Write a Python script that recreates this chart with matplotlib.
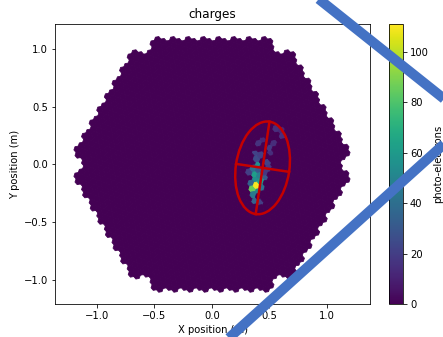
import numpy as np
import matplotlib
matplotlib.use("Agg")
import matplotlib.pyplot as plt
from matplotlib.collections import PolyCollection
from matplotlib.patches import Ellipse
from matplotlib.lines import Line2D

# ---------------- data ----------------
title = "charges"
x_label = "X position (m)"
y_label = "Y position (m)"
cbar_label = "photo-electrons"
x_limits = (-1.365, 1.374)
y_limits = (-1.21, 1.217)
x_ticks = [-1.0, -0.5, 0.0, 0.5, 1.0]
y_ticks = [-1.0, -0.5, 0.0, 0.5, 1.0]
cbar_ticks = [0, 20, 40, 60, 80, 100]
charge_max = 111.0

# camera geometry (LST-like: 7-pixel modules on a hexagonal grid)
pixel_pitch = 0.05
module_rings = 9

# illuminated pixels: x (m), y (m), charge (p.e.)
hot_x = [0.39, 0.35, 0.37, 0.36, 0.37, 0.37, 0.36, 0.40, 0.41, 0.33, 0.44,
         0.39, 0.37, 0.50, 0.48, 0.50, 0.57, 0.59, 0.55, 0.44, 0.33, 0.45,
         0.42, 0.62, 0.53, 0.40, 0.34, 0.41, 0.46, 0.38, 0.40, 0.42, 0.39]
hot_y = [-0.18, -0.21, -0.07, -0.12, -0.23, -0.27, -0.30, 0.01, -0.14, -0.16, -0.12,
         0.12, 0.06, 0.15, 0.03, -0.01, 0.32, 0.25, 0.20, 0.10, -0.05, -0.07,
         0.17, 0.28, 0.08, -0.34, -0.26, -0.03, 0.22, -0.03, -0.09, -0.20, -0.24]
hot_q = [110, 85, 62, 55, 55, 45, 35, 55, 60, 35, 30,
         22, 25, 18, 22, 18, 15, 15, 14, 20, 20, 18,
         16, 12, 14, 20, 30, 30, 12, 40, 48, 42, 50]

# Hillas ellipse
hillas_x, hillas_y = 0.44, -0.03
hillas_length, hillas_width = 0.405, 0.233
hillas_psi_deg = 81.5

# overlay lines (figure pixel coordinates of 443x337 image)
overlay_line1 = ((320, 0), (443, 98))
overlay_line2 = ((230, 337), (443, 145))

# ---------------- geometry ----------------
p = pixel_pitch
M = np.sqrt(7) * p
rot = -np.arctan2(np.sqrt(3) / 2, 2.5)
a1 = p * np.array([np.cos(rot), np.sin(rot)])
a2 = p * np.array([np.cos(rot + np.pi / 3), np.sin(rot + np.pi / 3)])
B1 = np.array([M, 0.0])
B2 = np.array([M / 2, M * np.sqrt(3) / 2])
offsets = [np.zeros(2), a1, -a1, a2, -a2, a2 - a1, a1 - a2]
N = module_rings
corners = {(N, 0), (0, N), (-N, N), (-N, 0), (0, -N), (N, -N)}
centers = []
for i in range(-N, N + 1):
    for j in range(-N, N + 1):
        if abs(i + j) > N or (i, j) in corners:
            continue
        c = i * B1 + j * B2
        for o in offsets:
            centers.append(c + o)
centers = np.array(centers)

r = p / np.sqrt(3) * 1.03
angs = rot + np.pi / 6 + np.arange(6) * np.pi / 3
hexv = np.stack([r * np.cos(angs), r * np.sin(angs)], axis=1)
polys = centers[:, None, :] + hexv[None, :, :]

charges = np.zeros(len(centers))
for hx, hy, hq in zip(hot_x, hot_y, hot_q):
    k = np.argmin((centers[:, 0] - hx) ** 2 + (centers[:, 1] - hy) ** 2)
    charges[k] = max(charges[k], hq)

# ---------------- plot ----------------
W, H, DPI = 443, 337, 72
fig = plt.figure(figsize=(W / DPI, H / DPI), dpi=DPI)
ax = fig.add_axes([55 / W, 1 - 304 / H, 315 / W, 280 / H])
cax = fig.add_axes([389 / W, 1 - 304 / H, 14 / W, 280 / H])

coll = PolyCollection(polys, array=charges, cmap="viridis",
                      edgecolors="face", linewidths=0.8)
coll.set_clim(0, charge_max)
ax.add_collection(coll)
ax.set_xlim(*x_limits)
ax.set_ylim(*y_limits)
ax.set_xticks(x_ticks)
ax.set_yticks(y_ticks)
ax.set_title(title)
ax.set_xlabel(x_label)
ax.set_ylabel(y_label)

red = "#c40000"
psi = np.deg2rad(hillas_psi_deg)
ax.add_patch(Ellipse((hillas_x, hillas_y), 2 * hillas_length, 2 * hillas_width,
                     angle=hillas_psi_deg, fill=False, edgecolor=red, lw=2.5))
ax.plot([hillas_x - hillas_length * np.cos(psi), hillas_x + hillas_length * np.cos(psi)],
        [hillas_y - hillas_length * np.sin(psi), hillas_y + hillas_length * np.sin(psi)],
        color=red, lw=2.5)
ax.plot([hillas_x + hillas_width * np.sin(psi), hillas_x - hillas_width * np.sin(psi)],
        [hillas_y - hillas_width * np.cos(psi), hillas_y + hillas_width * np.cos(psi)],
        color=red, lw=2.5)

cb = fig.colorbar(coll, cax=cax)
cb.set_ticks(cbar_ticks)
cb.set_label(cbar_label)

blue = "#4472c4"
for (x0, y0), (x1, y1) in (overlay_line1, overlay_line2):
    dx, dy = x1 - x0, y1 - y0
    xs = [x0 - 0.2 * dx, x1 + 0.2 * dx]
    ys = [y0 - 0.2 * dy, y1 + 0.2 * dy]
    fig.add_artist(Line2D([x / W for x in xs], [1 - y / H for y in ys],
                          transform=fig.transFigure, color=blue, lw=10,
                          solid_capstyle="butt"))

fig.savefig("out.png", dpi=DPI)
